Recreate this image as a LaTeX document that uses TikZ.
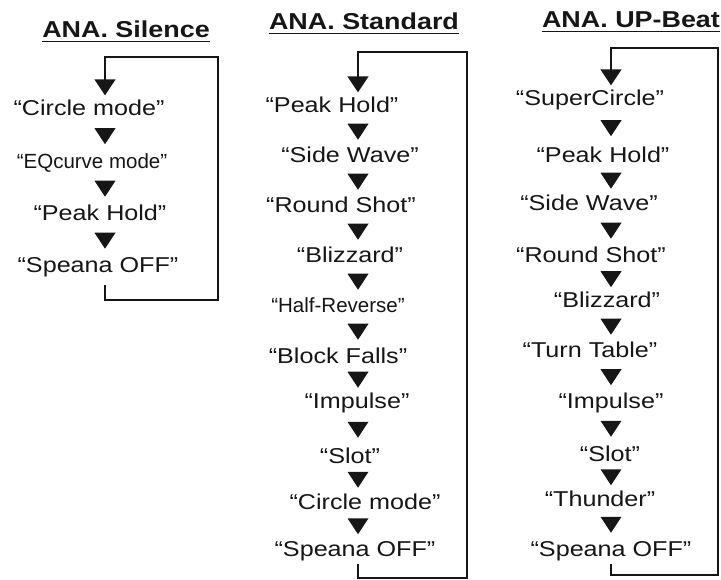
\documentclass[tikz,border=0pt]{standalone}
\usepackage{fontspec}
\setmainfont{Liberation Sans}[FakeStretch=1.17]
\newfontfamily\condfont{Liberation Sans}[FakeStretch=1.0]
\usepackage{xcolor}
\definecolor{ink}{HTML}{161616}
\usepackage{tikz}
\usetikzlibrary{arrows.meta,decorations.markings,calc}

\begin{document}
\begin{tikzpicture}[x=1pt,y=-1pt,
  it/.style={anchor=base,inner sep=0pt,text height=15.5pt,text depth=3pt,text=ink,font=\fontsize{21.5}{24}\selectfont},
  sm/.style={it,font=\condfont\fontsize{20.5}{23}\selectfont},
  hd/.style={anchor=base,inner sep=0pt,text=ink,font=\fontsize{23}{26}\selectfont\bfseries},
  ul/.style={draw=ink,line width=1.3pt},
  tri/.style={decoration={markings,mark=at position 0.5 with {\fill[ink] (-8pt,-10.5pt)--(8pt,0pt)--(-8pt,10.5pt)--cycle;}},decorate},
  lp/.style={draw=ink,line width=1.6pt,shorten <=5pt,shorten >=5pt,-{Triangle[length=16pt,width=21pt]}}]
\useasboundingbox (0,0) rectangle (721,580);
% headings
\node[hd] (h1) at (126,38) {ANA. Silence};
\node[hd] (h2) at (364,30) {ANA. Standard};
\node[hd] (h3) at (631,28) {ANA. UP-Beat};
\draw[ul] ([yshift=-3.5pt]h1.base west)--([yshift=-3.5pt]h1.base east);
\draw[ul] ([yshift=-3.5pt]h2.base west)--([yshift=-3.5pt]h2.base east);
\draw[ul] ([yshift=-3.5pt]h3.base west)--([yshift=-3.5pt]h3.base east);
% ANA. Silence
\coordinate (ax1) at (105,0);
\coordinate (r1t) at (218,57);
\coordinate (r1b) at (218,300);
\node[it] (s1) at (89,116) {“Circle mode”};
\node[sm] (s2) at (92,169) {“EQcurve mode”};
\node[it] (s3) at (100,221) {“Peak Hold”};
\node[it] (s4) at (98,273) {“Speana OFF”};
\path[tri] (s1.south -| ax1)--(s2.north -| ax1); \path[tri] (s2.south -| ax1)--(s3.north -| ax1); \path[tri] (s3.south -| ax1)--(s4.north -| ax1);
\draw[lp,shorten <=9pt] (s4.south -| ax1) |- (r1b) -- (r1t) -| (s1.north -| ax1);
% ANA. Standard
\coordinate (ax2) at (358,0);
\coordinate (r2t) at (467,52);
\coordinate (r2b) at (467,578);
\node[it] (d1) at (332,113) {“Peak Hold”};
\node[it] (d2) at (350,163) {“Side Wave”};
\node[it] (d3) at (341,213) {“Round Shot”};
\node[it] (d4) at (350,263) {“Blizzard”};
\node[sm] (d5) at (338,313) {“Half-Reverse”};
\node[it] (d6) at (338,363) {“Block Falls”};
\node[it] (d7) at (357,409) {“Impulse”};
\node[it] (d8) at (350,463) {“Slot”};
\node[it] (d9) at (365,509) {“Circle mode”};
\node[it] (d10) at (355,556) {“Speana OFF”};
\path[tri] (d1.south -| ax2)--(d2.north -| ax2); \path[tri] (d2.south -| ax2)--(d3.north -| ax2); \path[tri] (d3.south -| ax2)--(d4.north -| ax2);
\path[tri] (d4.south -| ax2)--(d5.north -| ax2); \path[tri] (d5.south -| ax2)--(d6.north -| ax2); \path[tri] (d6.south -| ax2)--(d7.north -| ax2);
\path[tri] (d7.south -| ax2)--(d8.north -| ax2); \path[tri] (d8.south -| ax2)--(d9.north -| ax2); \path[tri] (d9.south -| ax2)--(d10.north -| ax2);
\draw[lp] (d10.south -| ax2) |- (r2b) -- (r2t) -| (d1.north -| ax2);
% ANA. UP-Beat
\coordinate (ax3) at (611,0);
\coordinate (r3t) at (718,48);
\coordinate (r3b) at (718,575);
\node[it] (u1) at (590,106) {“SuperCircle”};
\node[it] (u2) at (603,163) {“Peak Hold”};
\node[it] (u3) at (589,211) {“Side Wave”};
\node[it] (u4) at (591,263) {“Round Shot”};
\node[it] (u5) at (607,308) {“Blizzard”};
\node[it] (u6) at (590,358) {“Turn Table”};
\node[it] (u7) at (611,409) {“Impulse”};
\node[it] (u8) at (610,461) {“Slot”};
\node[it] (u9) at (600,506) {“Thunder”};
\node[it] (u10) at (611,556) {“Speana OFF”};
\path[tri] (u1.south -| ax3)--(u2.north -| ax3); \path[tri] (u2.south -| ax3)--(u3.north -| ax3); \path[tri] (u3.south -| ax3)--(u4.north -| ax3);
\path[tri] (u4.south -| ax3)--(u5.north -| ax3); \path[tri] (u5.south -| ax3)--(u6.north -| ax3); \path[tri] (u6.south -| ax3)--(u7.north -| ax3);
\path[tri] (u7.south -| ax3)--(u8.north -| ax3); \path[tri] (u8.south -| ax3)--(u9.north -| ax3); \path[tri] (u9.south -| ax3)--(u10.north -| ax3);
\draw[lp] (u10.south -| ax3) |- (r3b) -- (r3t) -| (u1.north -| ax3);
\end{tikzpicture}
\end{document}
